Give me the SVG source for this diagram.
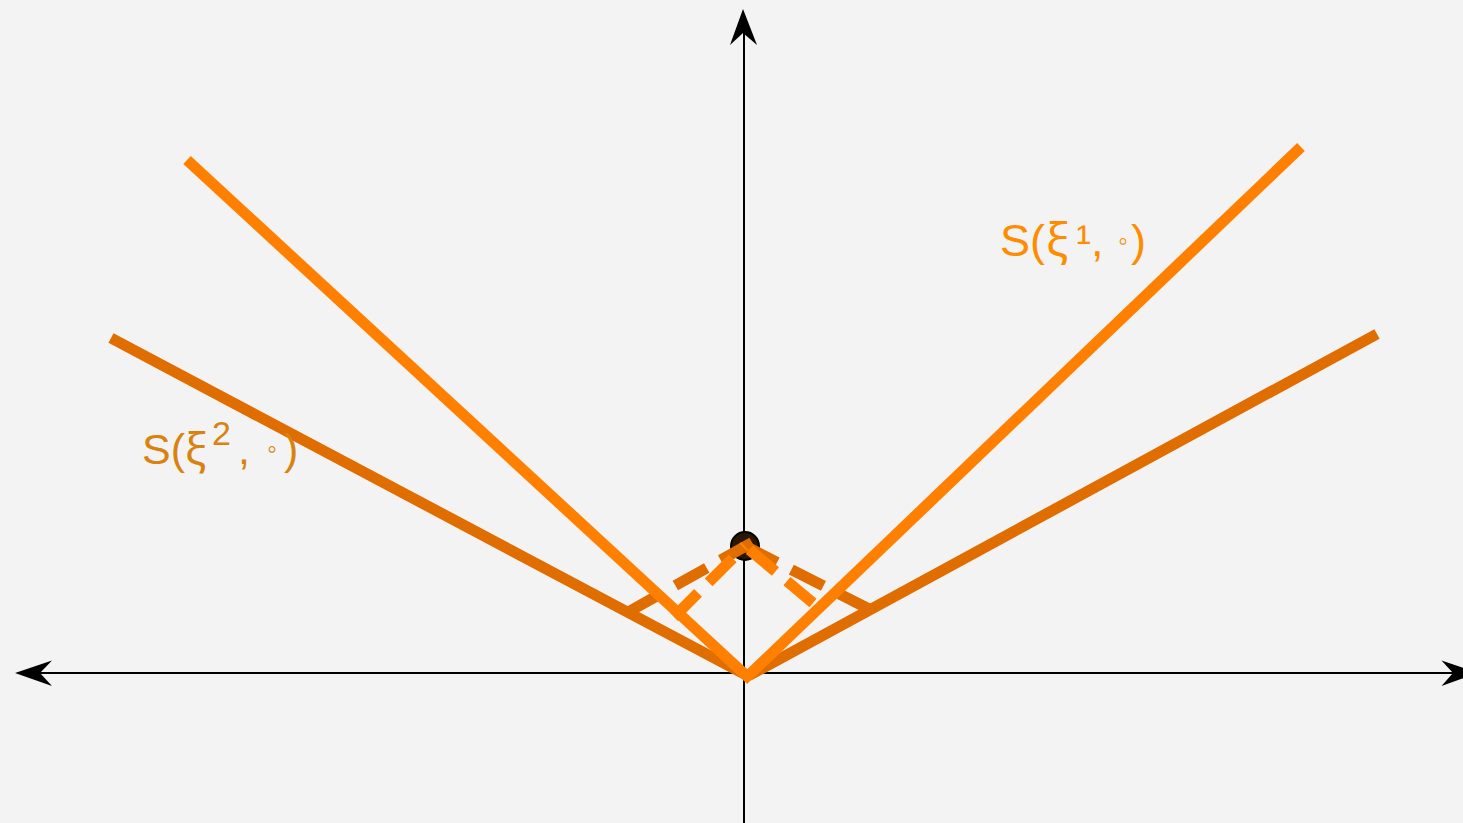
<svg xmlns="http://www.w3.org/2000/svg" width="1463" height="823" viewBox="0 0 1463 823">
  <style>
    .axis { stroke: #000; stroke-width: 2; fill: none; }
    .head { fill: #000; stroke: none; }
    .l1 { stroke: #FF8000; stroke-width: 11; fill: none; stroke-linecap: butt; }
    .l2 { stroke: #E06D00; stroke-width: 11; fill: none; stroke-linecap: butt; }
    .d1 { stroke: #FF8000; stroke-width: 11; fill: none; stroke-dasharray: 34 15; }
    .d2 { stroke: #E06D00; stroke-width: 11; fill: none; stroke-dasharray: 36 16; }
    .lbl { font-family: "Liberation Sans", Arial, sans-serif; }
    .xi { font-family: "Noto Sans", "Liberation Sans", sans-serif; }
  </style>
  <rect width="1463" height="823" fill="#F3F3F3"/>
  <g id="axes">
    <line class="axis" x1="744" y1="823" x2="744" y2="30"/>
    <path class="head" d="M743,9 L757,45 L743,33 L730,45 Z"/>
    <line class="axis" x1="38" y1="673" x2="1463" y2="673"/>
    <path class="head" d="M15,673 L52,660.5 L40,673 L52,686 Z"/>
    <path class="head" d="M1478,673 L1441.5,660.5 L1453,673 L1441.5,686 Z"/>
  </g>
  <g id="point">
    <circle cx="745" cy="546" r="14" fill="#2B1600" stroke="#000" stroke-width="2"/>
  </g>
  <g id="connectors">
    <line class="d2" x1="630" y1="611" x2="753" y2="542"/>
    <line class="d2" x1="745" y1="546" x2="869" y2="609"/>
    <line class="d1" x1="674" y1="617" x2="745" y2="546"/>
    <line class="d1" x1="813" y1="603" x2="745" y2="546"/>
  </g>
  <g id="lines-xi2">
    <line class="l2" x1="111" y1="338" x2="748" y2="676"/>
    <line class="l2" x1="1377" y1="334" x2="748" y2="676"/>
  </g>
  <g id="lines-xi1">
    <line class="l1" x1="187" y1="160" x2="751" y2="680"/>
    <line class="l1" x1="1301" y1="147" x2="748" y2="676"/>
  </g>
  <g id="label-xi1">
    <text class="lbl" x="1000" y="256" font-size="45" fill="#FF8C00">S(<tspan class="xi" x="1046" font-size="46">ξ</tspan><tspan x="1076">¹,</tspan><tspan x="1118" y="250" font-size="28">◦</tspan><tspan x="1131" y="256">)</tspan></text>
  </g>
  <g id="label-xi2">
    <text class="lbl" x="142" y="464" font-size="43" fill="#D9820F">S(<tspan class="xi" x="185" font-size="44">ξ</tspan><tspan x="212" y="445" font-size="34">2</tspan><tspan x="238" y="464">,</tspan><tspan x="267" y="458" font-size="28">◦</tspan><tspan x="284" y="464">)</tspan></text>
  </g>
</svg>
